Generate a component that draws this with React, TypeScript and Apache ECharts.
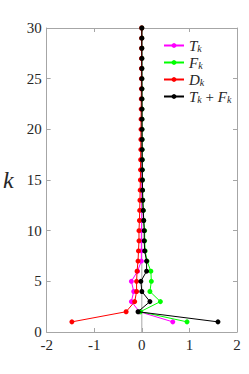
import React, { useEffect, useRef } from "react";
import * as echarts from "echarts";

const kValues = [1, 2, 3, 4, 5, 6, 7, 8, 9, 10, 11, 12, 13, 14, 15, 16, 17, 18, 19, 20, 21, 22, 23, 24, 25, 26, 27, 28, 29, 30];
const tValues = [0.65, -0.05, -0.22, -0.17, -0.22, -0.09, -0.01, -0.01, -0.01, -0.01, 0.0, 0.0, 0.0, 0.0, 0.0, 0.0, 0.0, 0.0, 0.0, 0.0, 0.0, 0.0, 0.0, 0.0, 0.0, 0.0, 0.0, 0.0, 0.0, 0.0];
const fValues = [0.95, -0.03, 0.39, 0.17, 0.2, 0.19, 0.11, 0.07, 0.06, 0.06, 0.04, 0.03, 0.02, 0.015, 0.012, 0.01, 0.008, 0.006, 0.005, 0.004, 0.003, 0.003, 0.002, 0.002, 0.001, 0.001, 0.001, 0.0, 0.0, 0.0];
const dValues = [-1.47, -0.33, -0.15, -0.11, -0.11, -0.1, -0.08, -0.07, -0.06, -0.06, -0.05, -0.045, -0.04, -0.035, -0.03, -0.028, -0.025, -0.022, -0.02, -0.018, -0.016, -0.014, -0.012, -0.01, -0.009, -0.008, -0.006, -0.005, -0.004, -0.003];
const tfValues = [1.6, -0.08, 0.17, 0.0, -0.02, 0.1, 0.1, 0.06, 0.05, 0.05, 0.04, 0.03, 0.02, 0.015, 0.012, 0.01, 0.008, 0.006, 0.005, 0.004, 0.003, 0.003, 0.002, 0.002, 0.001, 0.001, 0.001, 0.0, 0.0, 0.0];

const seriesNames = ["Tk", "Fk", "Dk", "TkFk"];
const seriesColors = ["#ff00ff", "#00ff00", "#ff0000", "#000000"];
const seriesData = [tValues, fValues, dValues, tfValues];
const legendLabels: Record<string, string> = {
  Tk: "{t|T}{s|k}",
  Fk: "{t|F}{s|k}",
  Dk: "{t|D}{s|k}",
  TkFk: "{t|T}{s|k}{n| + }{t|F}{s|k}",
};

const SERIF = "Liberation Serif";
const AXIS_COLOR = "#a6a6a6";
const LABEL_COLOR = "#262626";

export default function App() {
  const ref = useRef<HTMLDivElement>(null);
  useEffect(() => {
    if (!ref.current) return;
    const chart = echarts.init(ref.current, undefined, { renderer: "svg" });
    const axisCommon = {
      axisLine: { show: true, onZero: false, lineStyle: { color: AXIS_COLOR, width: 1 } },
      axisTick: { show: true, inside: true, length: 4, lineStyle: { color: AXIS_COLOR } },
      splitLine: { show: false },
    };
    chart.setOption({
      animation: false,
      backgroundColor: "#ffffff",
      grid: { left: 45, right: 12, top: 28, bottom: 42, containLabel: false },
      xAxis: [
        {
          type: "value",
          min: -2,
          max: 2,
          interval: 1,
          position: "bottom",
          ...axisCommon,
          axisLabel: { color: LABEL_COLOR, fontFamily: SERIF, fontSize: 15, margin: 5 },
        },
        {
          type: "value",
          min: -2,
          max: 2,
          interval: 1,
          position: "top",
          ...axisCommon,
          axisLabel: { show: false },
        },
      ],
      yAxis: [
        {
          type: "value",
          min: 0,
          max: 30,
          interval: 5,
          position: "left",
          ...axisCommon,
          axisLabel: { color: LABEL_COLOR, fontFamily: SERIF, fontSize: 15, margin: 5 },
          name: "k",
          nameLocation: "middle",
          nameRotate: 0,
          nameGap: 33,
          nameTextStyle: { fontFamily: SERIF, fontStyle: "italic", fontSize: 24, color: LABEL_COLOR },
        },
        {
          type: "value",
          min: 0,
          max: 30,
          interval: 5,
          position: "right",
          ...axisCommon,
          axisLabel: { show: false },
        },
      ],
      legend: {
        orient: "vertical",
        left: 158,
        top: 33,
        itemWidth: 20,
        itemHeight: 6,
        itemGap: 2,
        data: seriesNames,
        formatter: (name: string) => legendLabels[name],
        textStyle: {
          color: LABEL_COLOR,
          rich: {
            t: { fontFamily: SERIF, fontStyle: "italic", fontSize: 15, lineHeight: 15, verticalAlign: "bottom" },
            s: { fontFamily: SERIF, fontStyle: "italic", fontSize: 10, lineHeight: 15, verticalAlign: "bottom", padding: [5, 0, 0, 0] },
            n: { fontFamily: SERIF, fontSize: 15, lineHeight: 15, verticalAlign: "bottom" },
          },
        },
      },
      series: [
        {
          type: "line",
          name: "zero",
          data: [[0, 0], [0, 30]],
          symbol: "none",
          lineStyle: { color: "#a6a6a6", width: 1 },
          silent: true,
          z: 1,
        },
        ...seriesNames.map((name, i) => ({
          type: "line",
          name,
          data: kValues.map((k, j) => [seriesData[i][j], k]),
          symbol: "circle",
          symbolSize: 5,
          showSymbol: true,
          color: seriesColors[i],
          lineStyle: { color: seriesColors[i], width: 1 },
          itemStyle: { color: seriesColors[i] },
          z: 2 + i,
        })),
      ],
    });
    return () => chart.dispose();
  }, []);
  return <div ref={ref} style={{ width: 249, height: 374, position: "absolute", left: 0, top: 0 }} />;
}
